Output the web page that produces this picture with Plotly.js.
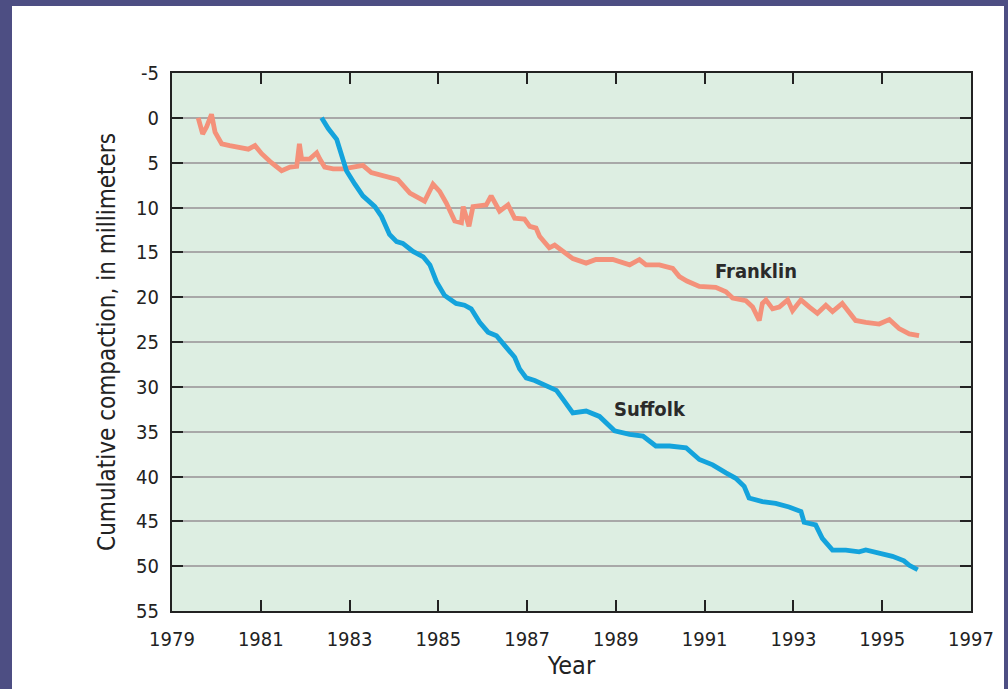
<!DOCTYPE html>
<html>
<head>
<meta charset="utf-8">
<script src="https://cdn.plot.ly/plotly-3.0.1.min.js"></script>
<style>
  html, body { margin: 0; padding: 0; width: 1008px; height: 689px; overflow: hidden;
    background: #4d4e83; }
  #chart { position: absolute; left: 12px; top: 6px; width: 992px; height: 683px; background: #ffffff; }
</style>
</head>
<body>
<div id="chart"></div>
<script>
// Franklin site: cumulative compaction (mm) vs year
const franklinYear = [1979.59,1979.69,1979.78,1979.89,1979.97,1980.12,1980.3,1980.53,1980.72,1980.87,
  1981.02,1981.24,1981.47,1981.66,1981.81,1981.87,1981.92,1982.1,1982.26,1982.33,
  1982.44,1982.63,1982.85,1983.08,1983.3,1983.49,1983.75,1984.09,1984.36,1984.69,
  1984.88,1985.03,1985.18,1985.37,1985.52,1985.56,1985.69,1985.78,1986.08,1986.19,
  1986.38,1986.57,1986.72,1986.94,1987.06,1987.2,1987.28,1987.5,1987.62,1987.8,
  1988.03,1988.33,1988.55,1988.93,1989.31,1989.53,1989.68,1989.98,1990.28,1990.43,
  1990.6,1990.88,1991.25,1991.48,1991.63,1991.93,1992.08,1992.23,1992.3,1992.38,
  1992.53,1992.68,1992.87,1992.98,1993.17,1993.36,1993.54,1993.73,1993.88,1994.1,
  1994.4,1994.63,1994.93,1995.16,1995.38,1995.61,1995.83];
const franklinMm = [0,1.8,1.0,-0.4,1.6,2.9,3.1,3.3,3.5,3.1,
  4.0,5.0,5.9,5.5,5.4,2.9,4.6,4.6,3.9,4.6,
  5.5,5.7,5.7,5.5,5.3,6.1,6.5,6.9,8.4,9.3,
  7.4,8.2,9.5,11.5,11.7,9.9,12.1,9.9,9.7,8.7,
  10.4,9.7,11.2,11.3,12.1,12.3,13.2,14.5,14.2,14.9,
  15.7,16.2,15.8,15.8,16.4,15.8,16.4,16.4,16.8,17.7,
  18.2,18.8,18.9,19.4,20.1,20.4,21.1,22.6,20.7,20.3,
  21.3,21.1,20.3,21.5,20.3,21.1,21.8,20.9,21.6,20.7,
  22.6,22.8,23.0,22.5,23.5,24.1,24.3];

// Suffolk site
const suffolkYear = [1982.37,1982.52,1982.71,1982.82,1982.93,1983.12,1983.3,1983.57,1983.72,1983.9,
  1984.06,1984.2,1984.43,1984.66,1984.81,1984.96,1985.14,1985.4,1985.59,1985.74,
  1985.93,1986.12,1986.31,1986.53,1986.72,1986.83,1986.98,1987.17,1987.43,1987.66,
  1987.81,1988.03,1988.33,1988.63,1988.97,1989.31,1989.61,1989.9,1990.21,1990.58,
  1990.88,1991.18,1991.48,1991.7,1991.89,1992.0,1992.3,1992.6,1992.9,1993.17,
  1993.24,1993.5,1993.65,1993.88,1994.18,1994.48,1994.63,1994.93,1995.23,1995.49,
  1995.61,1995.8];
const suffolkMm = [0,1.2,2.4,4.4,5.9,7.4,8.7,9.9,11.0,13.0,
  13.8,14.0,14.9,15.5,16.4,18.3,19.8,20.7,20.9,21.3,
  22.8,23.9,24.3,25.6,26.7,28.0,29.0,29.3,29.9,30.4,
  31.4,32.9,32.7,33.3,34.9,35.3,35.5,36.6,36.6,36.8,
  38.1,38.7,39.6,40.2,41.1,42.4,42.8,43.0,43.4,43.9,
  45.1,45.4,46.9,48.2,48.2,48.4,48.2,48.6,48.9,49.4,
  49.9,50.4];

const xTicks = [1979,1981,1983,1985,1987,1989,1991,1993,1995,1997];
const yTicks = [-5,0,5,10,15,20,25,30,35,40,45,50,55];

const seriesNames = ['Franklin', 'Suffolk'];
const labelPos = { Franklin: [1992.16, 17.1], Suffolk: [1989.76, 32.5] };

const FONT = '"Liberation Sans Narrow", "DejaVu Sans Condensed", "Arial Narrow", sans-serif';

const traces = [
  { x: franklinYear, y: franklinMm, name: seriesNames[0], type: 'scatter', mode: 'lines',
    line: { color: '#f4917a', width: 4.8 } },
  { x: suffolkYear, y: suffolkMm, name: seriesNames[1], type: 'scatter', mode: 'lines',
    line: { color: '#14a3dc', width: 4.8 } }
];

const layout = {
  width: 992, height: 683,
  margin: { l: 160, r: 33, t: 67, b: 78 },
  paper_bgcolor: '#ffffff',
  plot_bgcolor: '#ddeee2',
  showlegend: false,
  font: { family: FONT, color: '#222222', size: 20 },
  xaxis: {
    range: [1979, 1997], tickvals: xTicks, ticktext: xTicks.map(String),
    ticks: 'inside', ticklen: 11, tickwidth: 2, tickcolor: '#222',
    showline: true, linecolor: '#222', linewidth: 2, mirror: 'ticks',
    showgrid: false, zeroline: false,
    tickfont: { family: FONT, size: 20, color: '#222' },
    ticklabelstandoff: 9,
    title: { text: 'Year', font: { family: FONT, size: 25, color: '#222' }, standoff: 6 }
  },
  yaxis: {
    range: [55, -5], tickvals: yTicks, ticktext: yTicks.map(String),
    ticks: 'inside', ticklen: 11, tickwidth: 2, tickcolor: '#222',
    showline: true, linecolor: '#222', linewidth: 2, mirror: 'ticks',
    showgrid: true, gridcolor: '#a8a8a8', gridwidth: 2, zeroline: false,
    tickfont: { family: FONT, size: 20, color: '#222' },
    ticklabelstandoff: 7,
    title: { text: 'Cumulative compaction, in millimeters', font: { family: FONT, size: 24, color: '#222' }, standoff: 14 }
  },
  annotations: seriesNames.map(n => ({
    x: labelPos[n][0], y: labelPos[n][1], xref: 'x', yref: 'y',
    text: '<b>' + n + '</b>', showarrow: false,
    font: { family: FONT, size: 20, color: '#2a2a2a' }
  }))
};

Plotly.newPlot('chart', traces, layout, { displayModeBar: false, staticPlot: true });
</script>
</body>
</html>
